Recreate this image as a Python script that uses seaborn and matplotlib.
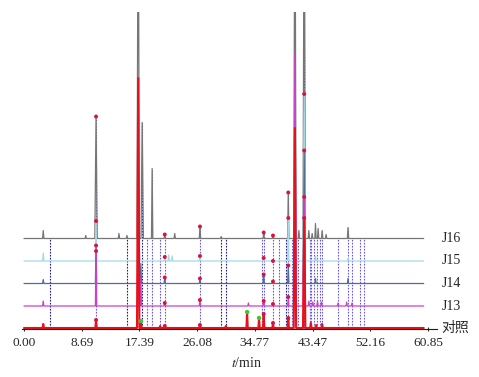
# Stacked HPLC chromatograms: control + samples J13-J16
import numpy as np
import pandas as pd
import seaborn as sns
import matplotlib.pyplot as plt

sns.set_style('ticks')
plt.rcParams['font.family'] = ['Liberation Serif', 'Noto Sans CJK SC']
plt.rcParams['mathtext.fontset'] = 'stix'

# sample names, bottom to top, and baseline offsets of each trace
samples = ['对照', 'J13', 'J14', 'J15', 'J16']
offsets = [1, 23, 45.5, 68, 90.5]
t_end = 60.2

# peak tables: retention time (min), peak height
peak_t = {
    'J16': [2.9, 9.3, 10.85, 14.3, 15.5, 17.2, 17.8, 19.3, 21.2, 22.7, 26.5, 29.7,
            36.1, 37.5, 39.8, 40.8, 41.4, 42.2, 42.9, 43.4, 43.9, 44.3, 44.9, 45.5, 48.8],
    'J15': [2.9, 10.85, 17.4, 21.2, 21.8, 22.3, 26.5, 36.1, 39.8, 40.8, 42.2, 43.9, 48.8],
    'J14': [2.9, 10.85, 17.6, 21.2, 26.5, 36.1, 37.5, 39.8, 40.8, 42.2, 43.9, 48.8],
    'J13': [2.9, 10.85, 17.6, 21.2, 26.5, 33.8, 36.1, 37.5, 39.8, 40.8, 42.2, 42.9,
            43.5, 44.2, 44.8, 47.3, 48.6, 49.4],
    '对照': [2.9, 10.85, 17.2, 17.6, 20.5, 21.2, 26.5, 30.4, 33.6, 35.4, 36.1, 37.5,
           39.8, 40.8, 42.2, 43.2, 44.0, 44.9],
}
peak_h = {
    'J16': [8, 3, 122, 5, 3, 400, 116, 70, 4, 5, 12, 2,
            6, 3, 46, 400, 8, 400, 8, 5, 15, 10, 8, 4, 11],
    'J15': [8, 40, 10, 4, 6, 5, 5, 3, 43, 120, 167, 5, 3],
    'J14': [4, 38, 20, 6, 5, 9, 2, 18, 150, 133, 5, 5],
    'J13': [5, 55, 28, 3, 6, 3, 5, 2, 9, 253, 109, 5,
            4, 5, 4, 3, 4, 3],
    '对照': [4, 8, 250, 7, 2, 2, 3, 2, 16, 10, 14, 5,
           10, 200, 110, 5, 3, 4],
}

# marked peaks (red dots on every trace) and control peaks marked green
mark_t = [10.85, 21.2, 26.5, 36.1, 37.5, 39.8, 42.2]
green_t = [17.6, 33.6, 35.4]

# dotted alignment lines
dash_dark = [3.9, 15.5, 17.8, 29.7, 30.4, 39.5, 42.2]
dash_light = [10.85, 18.5, 19.3, 20.5, 21.2, 26.5, 35.8, 36.1, 37.5, 38.4, 39.8,
              40.4, 41.3, 43.0, 43.2, 43.7, 44.1, 44.6, 44.9, 47.3, 48.8, 49.4,
              50.6, 51.2]

xticks = [0.00, 8.69, 17.39, 26.08, 34.77, 43.47, 52.16, 60.85]

colors = {'对照': '#e8101a', 'J13': '#cc40cc', 'J14': '#4f6f99',
          'J15': '#a6dae4', 'J16': '#767676'}
widths = {'对照': 1.5, 'J13': 0.9, 'J14': 0.9, 'J15': 0.9, 'J16': 0.9}

# build long table of trace vertices
rows = []
for name, off in zip(samples, offsets):
    pts = [(0.0, 0.0)]
    for t, h in sorted(zip(peak_t[name], peak_h[name])):
        w = 0.18 if h > 100 else 0.1
        pts += [(t - w, 0.0), (t, h), (t + w, 0.0)]
    pts.append((t_end, 0.0))
    for t, h in pts:
        rows.append({'t': t, 'signal': off + h, 'sample': name})
df = pd.DataFrame(rows)


def apex(name, t):
    off = offsets[samples.index(name)]
    for pt, ph in zip(peak_t[name], peak_h[name]):
        if abs(pt - t) < 0.05:
            return off + ph
    return off


fig = plt.figure(figsize=(4.79, 3.77), dpi=100)
ax = fig.add_axes([22 / 479, 48 / 377, 415 / 479, 317 / 377])
ax.set_xlim(-0.3, 62.2)
ax.set_ylim(0, 317)

# dotted lines, from control baseline to highest apex / top trace
for group, col in [(dash_light, '#6a5ad8'), (dash_dark, '#1c1c8c')]:
    tops = [max([offsets[-1]] + [apex(s, t) for s in samples]) for t in group]
    ax.vlines(group, offsets[0], tops, colors=col, linestyles=(0, (1.5, 1.2)),
              lw=0.8, zorder=1)

sns.lineplot(data=df, x='t', y='signal', hue='sample', size='sample',
             hue_order=samples[::-1], palette=colors, sizes=widths,
             estimator=None, sort=False, legend=False, ax=ax, zorder=2)

dots = pd.DataFrame([{'t': t, 'y': apex(s, t)} for t in mark_t for s in samples])
sns.scatterplot(data=dots, x='t', y='y', color='#e0103c', s=8,
                edgecolor='none', ax=ax, zorder=3)
gdots = pd.DataFrame({'t': green_t, 'y': [apex('对照', t) for t in green_t]})
sns.scatterplot(data=gdots, x='t', y='y', color='#33cc33', s=10,
                edgecolor='none', ax=ax, zorder=4)

for name, off in zip(samples, offsets):
    ax.text(62.9, off, name, va='center', ha='left', fontsize=10, clip_on=False)

sns.despine(ax=ax, left=True)
ax.spines['bottom'].set_color('#4a0a0a')
ax.set_yticks([])
ax.set_ylabel('')
ax.set_xticks(xticks)
ax.set_xticklabels(['%.2f' % v for v in xticks], fontsize=9.6)
ax.tick_params(axis='x', length=3, width=0.8, direction='inout', pad=4)
ax.set_xlabel('$t$/min', fontsize=10)
ax.xaxis.set_label_coords(0.54, -0.085)

fig.savefig('out.png', dpi=100)
